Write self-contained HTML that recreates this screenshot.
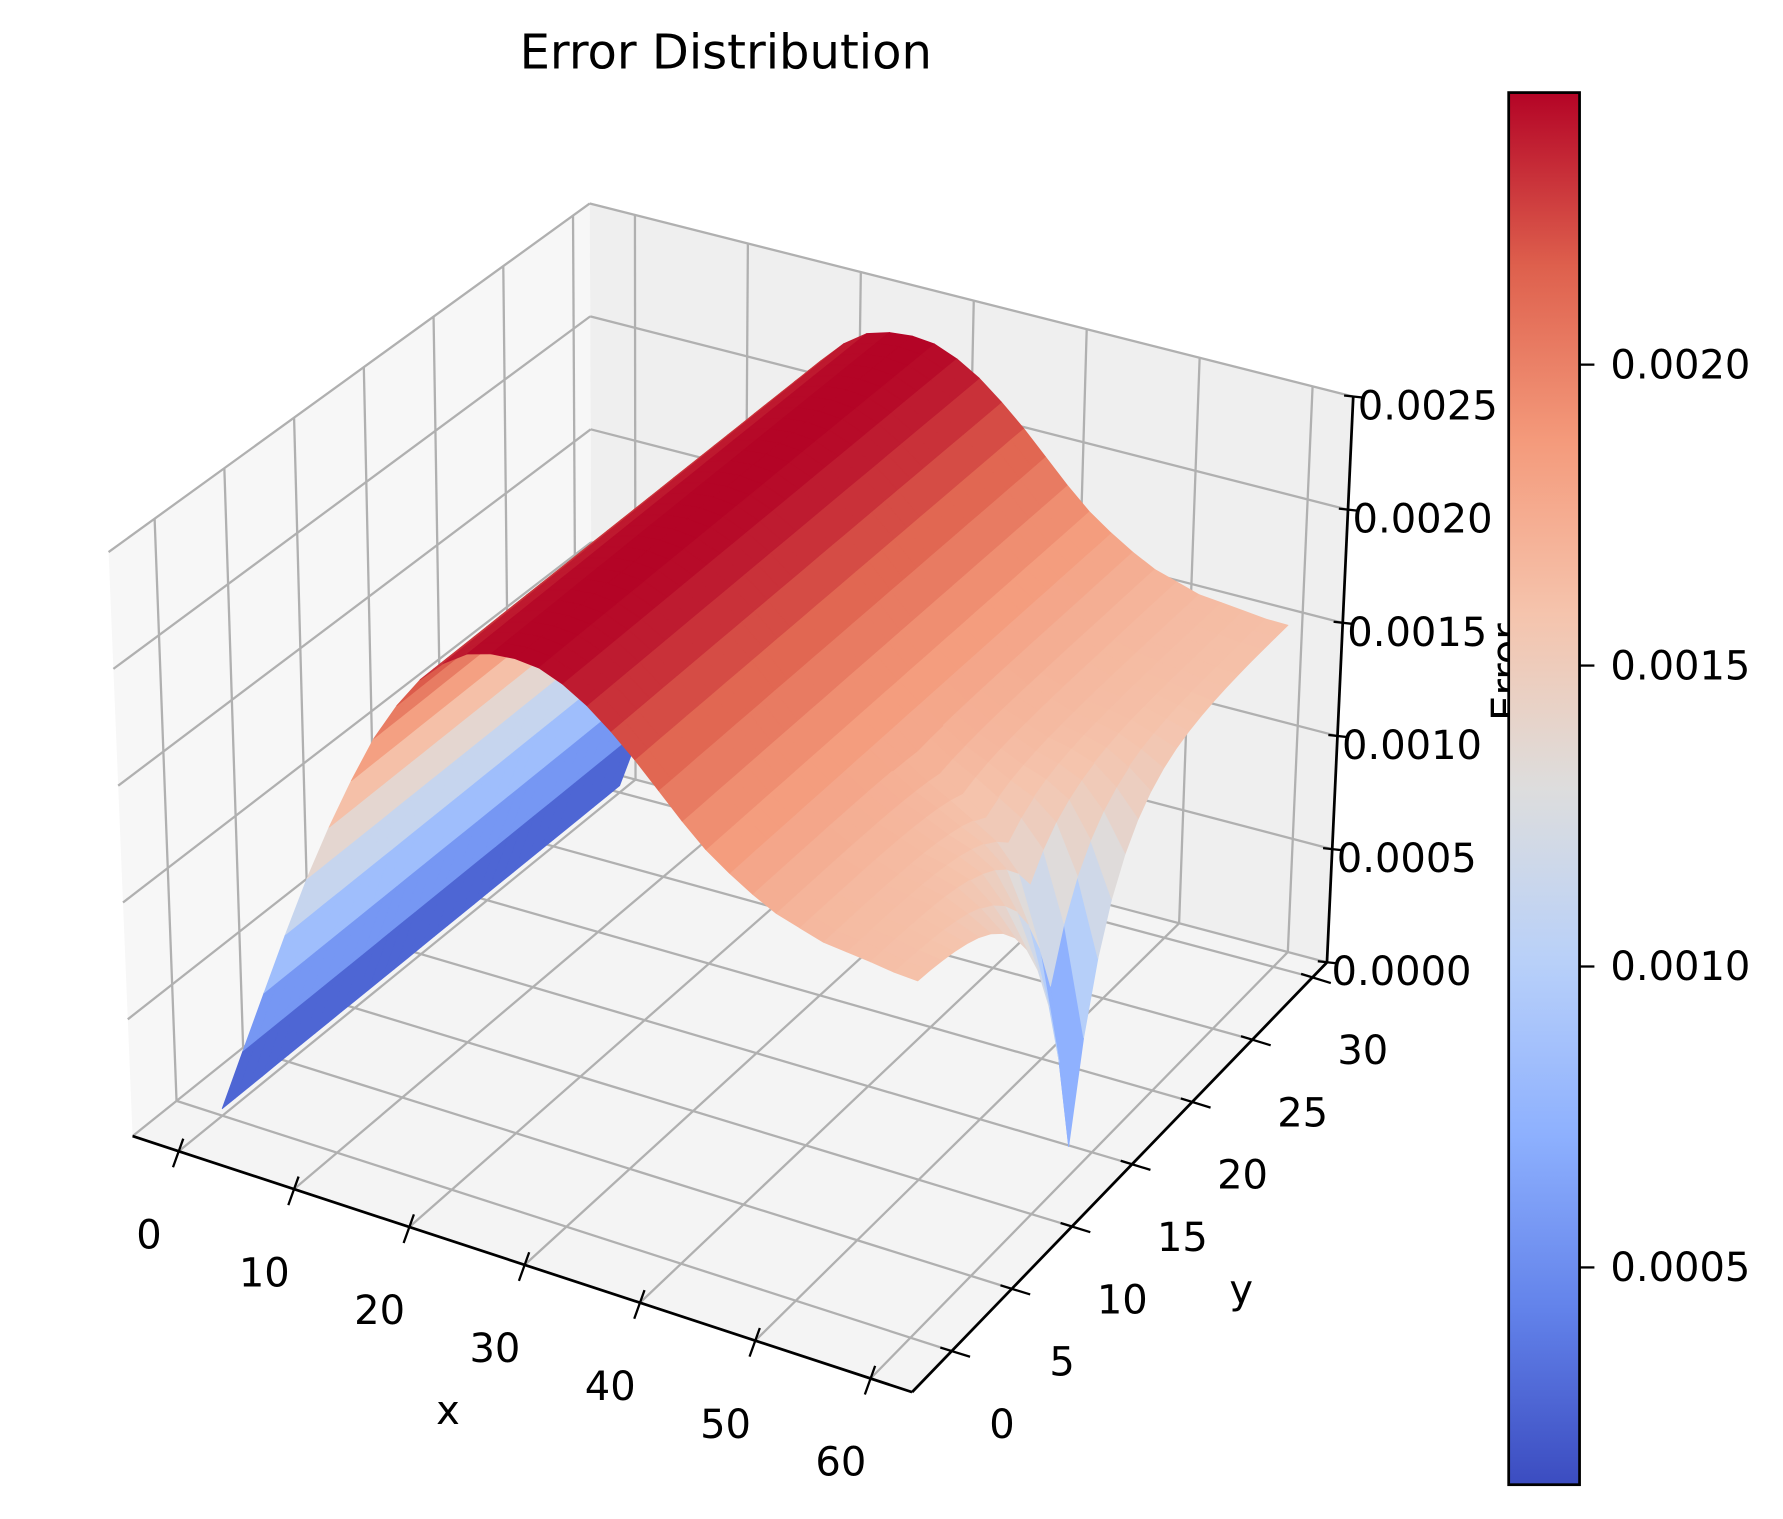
<!DOCTYPE html>
<html><head><meta charset="utf-8"><title>Error Distribution</title>
<style>
html,body{margin:0;padding:0;background:#fff;}
svg{display:block;font-family:"DejaVu Sans","Liberation Sans",sans-serif;}
</style></head>
<body>
<svg id="chart" xmlns="http://www.w3.org/2000/svg" width="1783" height="1519" viewBox="0 0 1560 1329">
<rect x="0" y="0" width="1560" height="1329" fill="#ffffff"/>
<text x="635" y="60" font-size="42" text-anchor="middle" fill="#000">Error Distribution</text>
<g id="panes"></g>
<g id="grid"></g>
<g id="surface"></g>
<g id="axes"></g>
<text x="1330" y="588" font-size="35" text-anchor="middle" transform="rotate(-90 1330 588)">Error</text>
<g id="cbar"></g>
</svg>
<script>
// ---- data ----
const xValues = [0,2,4,6,8,10,12,14,16,18,20,22,24,26,28,30,32,34,36,38,40,42,44,46,48,50,52,54,56,58,60];
const yValues = [0,1,2,3,4,5,6,7,8,9,10,11,12,13,14,15,16,17,18,19,20,21,22,23,24,25,26,27,28,29,30];
const baseProfile = [0.00014,0.00042,0.00070,0.00098,0.00125,0.00150,0.00173,0.00194,0.00211,0.00225,0.00235,0.00242,0.00245,0.00246,0.00245,0.00241,0.00235,0.00227,0.00218,0.00208,0.00198,0.00189,0.00182,0.00176,0.00171,0.00168,0.00165,0.00164,0.00163,0.00162,0.00162];
const dipAmplitude = [0,0,0,0,0,0,0,0,0,0,0,0,0,0,0,0,0,0,0,0,0,0,0,0.00002,0.00004,0.00007,0.00011,0.00018,0.00032,0.00072,0.00138];
const dipCenter = 13;
const dipWidth = 2.8;
const xTicks = [0,10,20,30,40,50,60];
const yTicks = [0,5,10,15,20,25,30];
const zTicks = [0,0.0005,0.001,0.0015,0.002,0.0025];
const zTickLabels = ["0.0000","0.0005","0.0010","0.0015","0.0020","0.0025"];
const cbarTicks = [0.0005,0.001,0.0015,0.002];
const cbarTickLabels = ["0.0005","0.0010","0.0015","0.0020"];
const colorMin = 0.000139;
const colorMax = 0.002452;
const surfaceZShift = 0.00011;

// ---- projection ----
const XR=[-4,63.6], YR=[-3.3,31.2], ZR=[0,0.0025];
const A=[116,994],B=[798,1218],C=[1161,842],D=[518,672];
const A2=[95,483],B2=[809,693],C2=[1184,347],D2=[516,178];
function bil(P,Q,R,S,u,v){
  const a=(1-u)*(1-v),b=u*(1-v),c=u*v,d=(1-u)*v;
  return [a*P[0]+b*Q[0]+c*R[0]+d*S[0], a*P[1]+b*Q[1]+c*R[1]+d*S[1]];
}
function norm(x,y,z){return [(x-XR[0])/(XR[1]-XR[0]),(y-YR[0])/(YR[1]-YR[0]),(z-ZR[0])/(ZR[1]-ZR[0])];}
function proj(x,y,z){
  const [u,v,w]=norm(x,y,z);
  const b=bil(A,B,C,D,u,v), t=bil(A2,B2,C2,D2,u,v);
  return [(1-w)*b[0]+w*t[0],(1-w)*b[1]+w*t[1]];
}
function depth(x,y,z){const [u,v,w]=norm(x,y,z);return 0.433*u-0.75*v+0.5*w;}

const CM=[[59,76,192],[98,130,234],[141,176,254],[184,208,249],[221,221,221],[245,196,173],[244,154,123],[222,96,77],[180,4,38]];
function cmap(val){
  let t=(val-colorMin)/(colorMax-colorMin); t=Math.max(0,Math.min(1,t));
  const p=t*8, i=Math.min(7,Math.floor(p)), f=p-i;
  const c=CM[i].map((a,k)=>Math.round(a+(CM[i+1][k]-a)*f));
  return `rgb(${c[0]},${c[1]},${c[2]})`;
}
function errorAt(i,y){
  const k=Math.exp(-Math.abs(y-dipCenter)/dipWidth);
  return Math.abs(baseProfile[i]-dipAmplitude[i]*k);
}

const NS="http://www.w3.org/2000/svg";
function mk(tag,attrs,parent){const e=document.createElementNS(NS,tag);for(const k in attrs)e.setAttribute(k,attrs[k]);parent.appendChild(e);return e;}
const pts=a=>a.map(p=>p[0].toFixed(1)+","+p[1].toFixed(1)).join(" ");

// panes
const panes=document.getElementById('panes');
let pe;
pe=mk('polygon',{points:pts([proj(XR[0],YR[0],0),proj(XR[1],YR[0],0),proj(XR[1],YR[1],0),proj(XR[0],YR[1],0)]),fill:'#f4f4f4'},panes);


pe=mk('polygon',{points:pts([proj(XR[0],YR[0],0),proj(XR[0],YR[1],0),proj(XR[0],YR[1],ZR[1]),proj(XR[0],YR[0],ZR[1])]),fill:'#f7f7f7'},panes);


pe=mk('polygon',{points:pts([proj(XR[0],YR[1],0),proj(XR[1],YR[1],0),proj(XR[1],YR[1],ZR[1]),proj(XR[0],YR[1],ZR[1])]),fill:'#efefef'},panes);



// grid
const grid=document.getElementById('grid');
function gl(p,q,name){
  const l=mk('line',{x1:p[0],y1:p[1],x2:q[0],y2:q[1],stroke:'#b0b0b0','stroke-width':2},grid);
  
  
}
xTicks.forEach(x=>{gl(proj(x,YR[0],0),proj(x,YR[1],0),'floor-grid-x');gl(proj(x,YR[1],0),proj(x,YR[1],ZR[1]),'back-grid-x');});
yTicks.forEach(y=>{gl(proj(XR[0],y,0),proj(XR[1],y,0),'floor-grid-y');gl(proj(XR[0],y,0),proj(XR[0],y,ZR[1]),'left-grid-y');});
zTicks.forEach(z=>{gl(proj(XR[0],YR[0],z),proj(XR[0],YR[1],z),'left-grid-z');gl(proj(XR[0],YR[1],z),proj(XR[1],YR[1],z),'back-grid-z');});

// surface
const surf=document.getElementById('surface');
const faces=[];
const S=surfaceZShift;
for(let i=0;i<xValues.length-1;i++){
  for(let j=0;j<yValues.length-1;j++){
    const x0=xValues[i],x1=xValues[i+1],y0=yValues[j],y1=yValues[j+1];
    const z00=errorAt(i,y0),z10=errorAt(i+1,y0),z11=errorAt(i+1,y1),z01=errorAt(i,y1);
    const zm=(z00+z10+z11+z01)/4;
    faces.push({d:depth((x0+x1)/2,(y0+y1)/2,zm),p:[proj(x0,y0,z00-S),proj(x1,y0,z10-S),proj(x1,y1,z11-S),proj(x0,y1,z01-S)],c:cmap(zm)});
  }
}
faces.sort((a,b)=>a.d-b.d);
faces.forEach(f=>{
  const e=mk('polygon',{points:pts(f.p),fill:f.c,stroke:f.c,'stroke-width':0.7,'stroke-linejoin':'round'},surf);
  
  
});

// axes
const ax=document.getElementById('axes');
function line(p,q,name,w){
  const l=mk('line',{x1:p[0],y1:p[1],x2:q[0],y2:q[1],stroke:'#000','stroke-width':w||2.4},ax);
  
  
}
function txt(x,y,s,anchor,name){
  const t=mk('text',{x:x,y:y,'font-size':35,'text-anchor':anchor,fill:'#000'},ax);
  t.textContent=s;
  
  
}
line(proj(XR[0],YR[0],0),proj(XR[1],YR[0],0),'x-axis-line');
line(proj(XR[1],YR[0],0),proj(XR[1],YR[1],0),'y-axis-line');
line(proj(XR[1],YR[1],0),proj(XR[1],YR[1],ZR[1]),'z-axis-line');
xTicks.forEach(x=>{
  const p=proj(x,YR[0],0);
  line([p[0]+4,p[1]-11],[p[0]-5,p[1]+14],'x-tick',2);
  txt(p[0]-26,p[1]+85,String(x),'middle','x-tick-label');
});
yTicks.forEach(y=>{
  const p=proj(XR[1],y,0);
  line([p[0]-10,p[1]-3],[p[0]+16,p[1]+5],'y-tick',2);
  txt(p[0]+44,p[1]+76,String(y),'middle','y-tick-label');
});
zTicks.forEach((z,i)=>{
  const p=proj(XR[1],YR[1],z);
  line([p[0]-8,p[1]-1],[p[0]+10,p[1]+1],'z-tick',2);
  txt(p[0]+4,p[1]+20,zTickLabels[i],'start','z-tick-label');
});
txt(392,1246,'x','middle','x-axis-title');
txt(1086,1140,'y','middle','y-axis-title');

// colorbar
const cb=document.getElementById('cbar');
const CB={x:1320,y:81,w:62,h:1218};
function cbY(v){return CB.y+CB.h*(colorMax-v)/(colorMax-colorMin);}
const defs=mk('defs',{},cb);
const grad=mk('linearGradient',{id:'cg',x1:0,y1:1,x2:0,y2:0},defs);
for(let k=0;k<=16;k++){const v=colorMin+(colorMax-colorMin)*k/16;mk('stop',{offset:(k/16).toFixed(4),'stop-color':cmap(v)},grad);}
const cr=mk('rect',{x:CB.x,y:CB.y,width:CB.w,height:CB.h,fill:'url(#cg)',stroke:'#000','stroke-width':2.4},cb);


cbarTicks.forEach((v,i)=>{
  const y=cbY(v);
  const l=mk('line',{x1:CB.x+CB.w,y1:y,x2:CB.x+CB.w+13,y2:y,stroke:'#000','stroke-width':2},cb);
  
  
  const t=mk('text',{x:1409,y:y+12,'font-size':35,fill:'#000'},cb);
  t.textContent=cbarTickLabels[i];
  
  
});
</script>
</body></html>
